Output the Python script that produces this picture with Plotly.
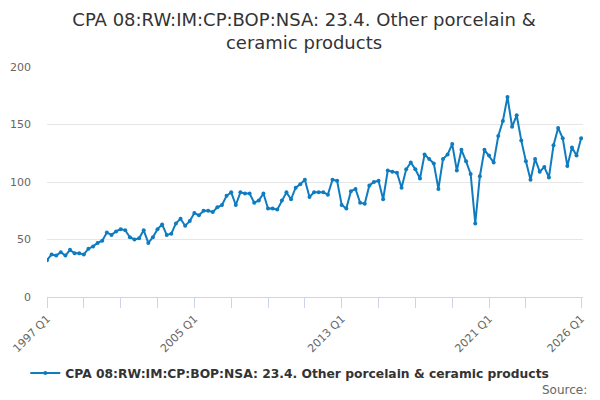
import plotly.graph_objects as go

# ------------------------------------------------------------------ data

SERIES_NAME = "CPA 08:RW:IM:CP:BOP:NSA: 23.4. Other porcelain & ceramic products"
START_YEAR = 1997

# quarterly values, 1997 Q1 .. 2026 Q1
values = [
    32, 37, 36, 39, 36, 41, 38, 38, 37, 42, 44, 47, 49, 56, 54, 57,      # 1997-2000
    59, 58, 52, 50, 51, 58, 47, 52, 59, 63, 54, 55, 64, 68, 62, 66,      # 2001-2004
    73, 71, 75, 75, 74, 78, 80, 88, 91, 80, 91, 90, 90, 82, 84, 90,      # 2005-2008
    77, 77, 76, 84, 91, 85, 95, 98, 102, 87, 91, 91, 91, 89, 102, 101,   # 2009-2012
    80, 77, 92, 94, 82, 81, 97, 100, 101, 85, 110, 109, 108, 95, 111, 117,  # 2013-2016
    111, 103, 124, 120, 116, 94, 120, 124, 133, 110, 128, 118, 107, 64, 105, 128,  # 2017-2020
    123, 117, 140, 153, 174, 148, 158, 136, 118, 102, 120, 109, 113, 104, 132, 147,  # 2021-2024
    138, 114, 130, 123, 138,                                             # 2025-2026 Q1
]

quarters = [f"{START_YEAR + i // 4} Q{i % 4 + 1}" for i in range(len(values))]
label_quarters = ["1997 Q1", "2005 Q1", "2013 Q1", "2021 Q1", "2026 Q1"]
minor_quarters = ["1999 Q1", "2001 Q1", "2003 Q1", "2007 Q1", "2009 Q1",
                  "2011 Q1", "2015 Q1", "2017 Q1", "2019 Q1", "2023 Q1"]
y_ticks = [0, 50, 100, 150, 200]

# ------------------------------------------------------------------ figure

idx = list(range(len(values)))
pos = {q: i for i, q in enumerate(quarters)}

LINE = "#0f7cc0"
AXIS = "#ccd6eb"
FONT = "DejaVu Sans"

fig = go.Figure(go.Scatter(
    x=idx, y=values, name=SERIES_NAME, mode="lines+markers",
    line=dict(color=LINE, width=2),
    marker=dict(color=LINE, size=4),
    customdata=quarters,
    hovertemplate="%{customdata}: %{y}<extra></extra>",
))

# page body keeps its default 8px margin, so the figure is 592x392
fig.update_layout(
    width=592, height=392,
    margin=dict(l=39, r=17, t=59, b=103, autoexpand=False),
    paper_bgcolor="white", plot_bgcolor="white",
    font=dict(family=FONT, color="#666666", size=11),
    title=dict(
        text="CPA 08:RW:IM:CP:BOP:NSA: 23.4. Other porcelain &<br>ceramic products",
        x=0.5, xanchor="center", xref="container",
        y=0.954, yanchor="top", yref="container",
        font=dict(family=FONT, size=18, color="#333333"),
    ),
    showlegend=True,
    legend=dict(
        orientation="h", xref="container", x=0.476, xanchor="center",
        yref="container", y=0.069, yanchor="middle",
        font=dict(family=FONT, size=12.3, color="#333333", weight="bold"),
        itemwidth=30,
    ),
    annotations=[dict(
        text="Source:", xref="paper", yref="paper",
        x=1.011, y=-0.404, xanchor="right", yanchor="middle",
        showarrow=False, font=dict(family=FONT, size=12, color="#666666"),
    )],
)

fig.update_xaxes(
    range=[0, 116.4],
    automargin=False,
    tickmode="array",
    tickvals=[pos[q] for q in label_quarters],
    ticktext=label_quarters,
    tickangle=-45,
    ticks="outside", ticklen=10, tickcolor=AXIS, tickwidth=1,
    minor=dict(tickmode="array", tickvals=[pos[q] for q in minor_quarters],
               ticks="outside", ticklen=10, tickcolor=AXIS, tickwidth=1, showgrid=False),
    showline=True, linecolor=AXIS, linewidth=1,
    showgrid=False, zeroline=False,
    tickfont=dict(size=11, color="#666666"),
)

fig.update_yaxes(
    range=[0, 200],
    automargin=False,
    tickvals=y_ticks,
    showgrid=True, gridcolor="#e6e6e6", gridwidth=1,
    zeroline=False, showline=False,
    ticks="", ticklabelstandoff=15,
    tickfont=dict(size=11, color="#666666"),
)

fig.write_html("out.html")
